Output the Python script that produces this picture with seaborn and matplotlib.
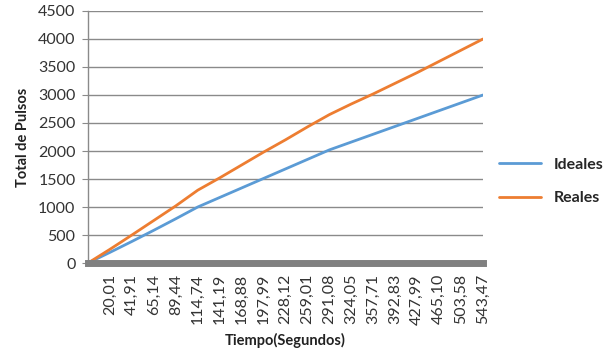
import matplotlib
matplotlib.use("Agg")
import matplotlib.pyplot as plt
import seaborn as sns
import pandas as pd
from matplotlib.lines import Line2D

tiempos = ["0", "20,01", "41,91", "65,14", "89,44", "114,74", "141,19", "168,88",
           "197,99", "228,12", "259,01", "291,08", "324,05", "357,71", "392,83",
           "427,99", "465,10", "503,58", "543,47"]
ideales = [0, 190, 385, 585, 790, 1000, 1170, 1340, 1510, 1680, 1850, 2020,
           2160, 2300, 2440, 2580, 2720, 2860, 3000]
reales = [0, 245, 500, 760, 1020, 1300, 1520, 1750, 1980, 2200, 2430, 2650,
          2840, 3020, 3210, 3400, 3600, 3800, 4000]
series = ["Ideales", "Reales"]
colores = ["#5B9BD5", "#ED7D31"]
yticks = [0, 500, 1000, 1500, 2000, 2500, 3000, 3500, 4000, 4500]

rows = []
for i, t in enumerate(tiempos):
    rows.append({"idx": i, "valor": ideales[i], "serie": series[0]})
    rows.append({"idx": i, "valor": reales[i], "serie": series[1]})
df = pd.DataFrame(rows)

sns.set_style("white")
plt.rcParams["font.family"] = ["Lato", "DejaVu Sans"]

fig = plt.figure(figsize=(6.10, 3.49), dpi=100)
ax = fig.add_axes([0.1443, 0.2464, 0.6475, 0.7221])

sns.lineplot(data=df, x="idx", y="valor", hue="serie", palette=colores,
             linewidth=2.0, ax=ax, legend=False)

ax.set_xlim(0, len(tiempos) - 1)
ax.set_ylim(0, 4500)
ax.set_yticks(yticks)
ax.set_yticklabels([str(v) for v in yticks], fontsize=11.5, color="#333333")
ax.set_xticks(range(1, len(tiempos)))
ax.set_xticklabels(tiempos[1:], rotation=90, fontsize=11.5, color="#333333")
ax.yaxis.grid(True, color="#8a8a8a", linewidth=1.0)
ax.set_axisbelow(True)
for s in ["top", "right"]:
    ax.spines[s].set_visible(False)
ax.spines["left"].set_color("#8a8a8a")
ax.spines["left"].set_linewidth(1.0)
ax.spines["bottom"].set_color("#808080")
ax.spines["bottom"].set_linewidth(5)
ax.tick_params(axis="y", length=4, color="#8a8a8a", pad=5, left=True)
ax.tick_params(axis="x", length=0, pad=8, bottom=True)

ax.set_xlabel("Tiempo(Segundos)", fontsize=10.5, fontweight="bold", color="#222222", labelpad=6)
ax.set_ylabel("Total de Pulsos", fontsize=10.5, fontweight="bold", color="#222222", labelpad=6)

handles = [Line2D([0], [0], color=c, linewidth=2.0) for c in colores]
leg = fig.legend(handles, series, loc="center left", bbox_to_anchor=(0.795, 0.48),
                 frameon=False, handlelength=2.6, labelspacing=1.2,
                 prop={"weight": "bold", "size": 11.5})

fig.savefig("out.png", dpi=100)
